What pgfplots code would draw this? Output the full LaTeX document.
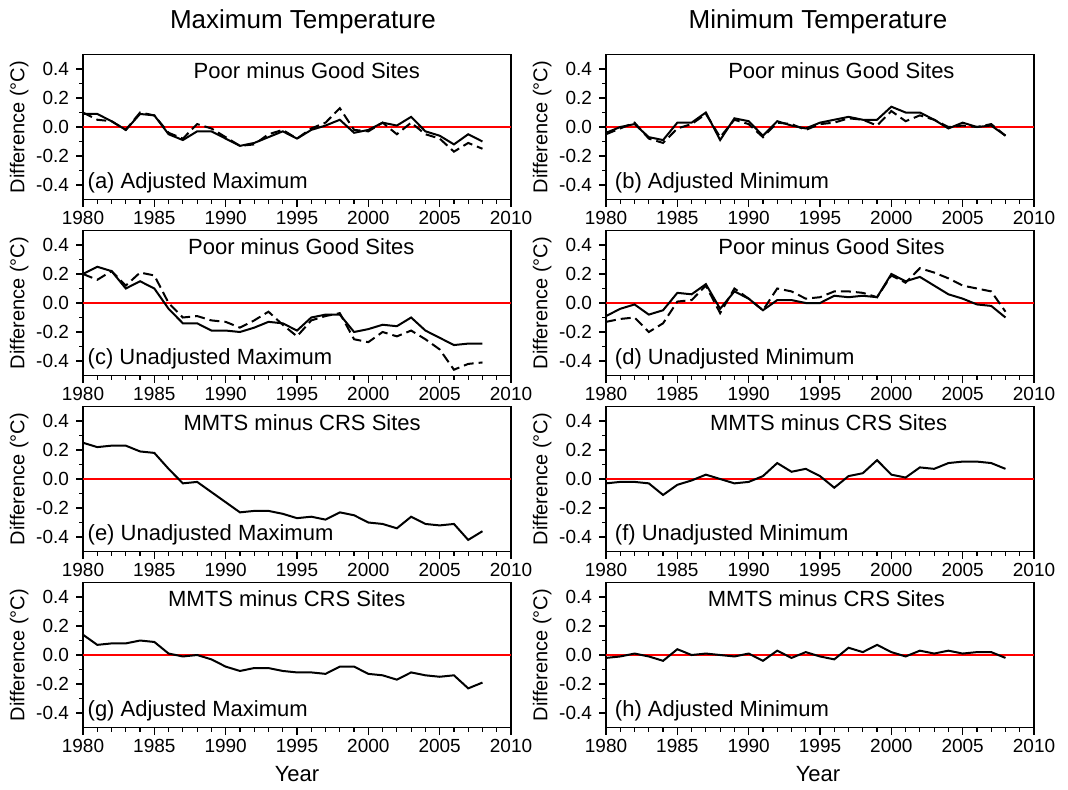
\documentclass[border=0pt]{standalone}
\usepackage{pgfplots}
\pgfplotsset{compat=1.18}
\usepackage{fontspec}
\setmainfont{Liberation Sans}
\pgfplotsset{
  panel/.style={
    scale only axis, width=214pt, height=72.5pt,
    anchor=south west,
    xmin=1980, xmax=2010, ymin=-0.5, ymax=0.5,
    xtick={1980,1985,...,2010}, minor x tick num=4,
    ytick={-0.4,-0.2,0,0.2,0.4}, minor y tick num=1,
    xtick pos=bottom, ytick pos=left,
    tick align=outside,
    major tick length=3.5pt, minor tick length=2pt,
    every tick/.style={black, line width=0.6pt},
    axis line style={line width=0.8pt},
    /pgf/number format/assume math mode=true,
    x tick label style={/pgf/number format/1000 sep={}, font=\fontsize{9.5}{11}\selectfont, yshift=1pt},
    y tick label style={/pgf/number format/fixed, /pgf/number format/fixed zerofill, /pgf/number format/precision=1, font=\fontsize{9.5}{11}\selectfont},
    ylabel={Difference (°C)},
    ylabel style={font=\fontsize{10}{12}\selectfont, yshift=-3pt},
    clip=false,
  },
  sol/.style={black, line width=1pt},
  das/.style={black, line width=1pt, dash pattern=on 5pt off 2.5pt},
  zero/.style={red, line width=1pt},
}
\newcommand{\inner}[2]{\node[font=\fontsize{11}{13}\selectfont] at (rel axis cs:#1,0.886) {#2};}
\newcommand{\lab}[2]{\node[font=\fontsize{11}{13}\selectfont, anchor=west, inner sep=0pt] at (rel axis cs:#1,0.114) {#2};}
\begin{document}
\begin{tikzpicture}
% (a)
\begin{axis}[panel, at={(41.5pt,294.75pt)}]
\addplot[zero] coordinates {(1980,0) (2010,0)};
\addplot[das] coordinates {(1980,0.10)(1981,0.05)(1982,0.04)(1983,-0.02)(1984,0.10)(1985,0.08)(1986,-0.04)(1987,-0.08)(1988,0.02)(1989,-0.01)(1990,-0.07)(1991,-0.13)(1992,-0.12)(1993,-0.05)(1994,-0.02)(1995,-0.08)(1996,-0.01)(1997,0.03)(1998,0.13)(1999,-0.02)(2000,-0.03)(2001,0.03)(2002,-0.05)(2003,0.03)(2004,-0.05)(2005,-0.08)(2006,-0.17)(2007,-0.11)(2008,-0.15)};
\addplot[sol] coordinates {(1980,0.09)(1981,0.09)(1982,0.04)(1983,-0.02)(1984,0.09)(1985,0.08)(1986,-0.05)(1987,-0.09)(1988,-0.03)(1989,-0.03)(1990,-0.08)(1991,-0.13)(1992,-0.11)(1993,-0.07)(1994,-0.03)(1995,-0.08)(1996,-0.02)(1997,0.01)(1998,0.05)(1999,-0.04)(2000,-0.02)(2001,0.03)(2002,0.01)(2003,0.07)(2004,-0.03)(2005,-0.06)(2006,-0.12)(2007,-0.05)(2008,-0.10)};
\inner{0.523}{Poor minus Good Sites}
\lab{0.01}{(a) Adjusted Maximum}
\end{axis}
% (b)
\begin{axis}[panel, at={(303pt,294.75pt)}]
\addplot[zero] coordinates {(1980,0) (2010,0)};
\addplot[das] coordinates {(1980,-0.05)(1981,-0.01)(1982,0.03)(1983,-0.08)(1984,-0.11)(1985,-0.01)(1986,0.02)(1987,0.09)(1988,-0.07)(1989,0.05)(1990,0.02)(1991,-0.07)(1992,0.03)(1993,0.02)(1994,-0.02)(1995,0.02)(1996,0.03)(1997,0.06)(1998,0.05)(1999,0.01)(2000,0.11)(2001,0.04)(2002,0.08)(2003,0.05)(2004,0.00)(2005,0.01)(2006,0.00)(2007,0.02)(2008,-0.06)};
\addplot[sol] coordinates {(1980,-0.04)(1981,0.00)(1982,0.02)(1983,-0.07)(1984,-0.09)(1985,0.03)(1986,0.03)(1987,0.10)(1988,-0.09)(1989,0.06)(1990,0.04)(1991,-0.06)(1992,0.04)(1993,0.01)(1994,-0.01)(1995,0.03)(1996,0.05)(1997,0.07)(1998,0.05)(1999,0.05)(2000,0.14)(2001,0.10)(2002,0.10)(2003,0.05)(2004,-0.01)(2005,0.03)(2006,0.00)(2007,0.01)(2008,-0.06)};
\inner{0.55}{Poor minus Good Sites}
\lab{0.02}{(b) Adjusted Minimum}
\end{axis}
% (c)
\begin{axis}[panel, at={(41.5pt,206.75pt)}]
\addplot[zero] coordinates {(1980,0) (2010,0)};
\addplot[das] coordinates {(1980,0.20)(1981,0.16)(1982,0.22)(1983,0.12)(1984,0.21)(1985,0.19)(1986,0.00)(1987,-0.10)(1988,-0.09)(1989,-0.12)(1990,-0.13)(1991,-0.17)(1992,-0.12)(1993,-0.06)(1994,-0.15)(1995,-0.23)(1996,-0.12)(1997,-0.09)(1998,-0.07)(1999,-0.25)(2000,-0.27)(2001,-0.20)(2002,-0.23)(2003,-0.19)(2004,-0.25)(2005,-0.32)(2006,-0.46)(2007,-0.42)(2008,-0.41)};
\addplot[sol] coordinates {(1980,0.20)(1981,0.25)(1982,0.22)(1983,0.10)(1984,0.15)(1985,0.10)(1986,-0.04)(1987,-0.14)(1988,-0.14)(1989,-0.19)(1990,-0.19)(1991,-0.20)(1992,-0.17)(1993,-0.13)(1994,-0.14)(1995,-0.19)(1996,-0.10)(1997,-0.08)(1998,-0.08)(1999,-0.20)(2000,-0.18)(2001,-0.15)(2002,-0.16)(2003,-0.10)(2004,-0.19)(2005,-0.24)(2006,-0.29)(2007,-0.28)(2008,-0.28)};
\inner{0.51}{Poor minus Good Sites}
\lab{0.01}{(c) Unadjusted Maximum}
\end{axis}
% (d)
\begin{axis}[panel, at={(303pt,206.75pt)}]
\addplot[zero] coordinates {(1980,0) (2010,0)};
\addplot[das] coordinates {(1980,-0.13)(1981,-0.11)(1982,-0.10)(1983,-0.20)(1984,-0.14)(1985,0.01)(1986,0.02)(1987,0.12)(1988,-0.07)(1989,0.10)(1990,0.03)(1991,-0.05)(1992,0.10)(1993,0.08)(1994,0.03)(1995,0.04)(1996,0.08)(1997,0.08)(1998,0.07)(1999,0.04)(2000,0.19)(2001,0.14)(2002,0.24)(2003,0.21)(2004,0.17)(2005,0.12)(2006,0.10)(2007,0.08)(2008,-0.06)};
\addplot[sol] coordinates {(1980,-0.09)(1981,-0.04)(1982,-0.01)(1983,-0.08)(1984,-0.05)(1985,0.07)(1986,0.06)(1987,0.13)(1988,-0.04)(1989,0.08)(1990,0.03)(1991,-0.05)(1992,0.02)(1993,0.02)(1994,0.00)(1995,0.00)(1996,0.05)(1997,0.04)(1998,0.05)(1999,0.04)(2000,0.20)(2001,0.15)(2002,0.18)(2003,0.12)(2004,0.06)(2005,0.03)(2006,-0.01)(2007,-0.02)(2008,-0.10)};
\inner{0.527}{Poor minus Good Sites}
\lab{0.02}{(d) Unadjusted Minimum}
\end{axis}
% (e)
\begin{axis}[panel, at={(41.5pt,118.75pt)}]
\addplot[zero] coordinates {(1980,0) (2010,0)};
\addplot[sol] coordinates {(1980,0.25)(1981,0.22)(1982,0.23)(1983,0.23)(1984,0.19)(1985,0.18)(1986,0.07)(1987,-0.03)(1988,-0.02)(1989,-0.09)(1990,-0.16)(1991,-0.23)(1992,-0.22)(1993,-0.22)(1994,-0.24)(1995,-0.27)(1996,-0.26)(1997,-0.28)(1998,-0.23)(1999,-0.25)(2000,-0.30)(2001,-0.31)(2002,-0.34)(2003,-0.26)(2004,-0.31)(2005,-0.32)(2006,-0.31)(2007,-0.42)(2008,-0.36)};
\inner{0.512}{MMTS minus CRS Sites}
\lab{0.01}{(e) Unadjusted Maximum}
\end{axis}
% (f)
\begin{axis}[panel, at={(303pt,118.75pt)}]
\addplot[zero] coordinates {(1980,0) (2010,0)};
\addplot[sol] coordinates {(1980,-0.03)(1981,-0.02)(1982,-0.02)(1983,-0.03)(1984,-0.11)(1985,-0.04)(1986,-0.01)(1987,0.03)(1988,0.00)(1989,-0.03)(1990,-0.02)(1991,0.02)(1992,0.11)(1993,0.05)(1994,0.07)(1995,0.02)(1996,-0.06)(1997,0.02)(1998,0.04)(1999,0.13)(2000,0.03)(2001,0.01)(2002,0.08)(2003,0.07)(2004,0.11)(2005,0.12)(2006,0.12)(2007,0.11)(2008,0.07)};
\inner{0.52}{MMTS minus CRS Sites}
\lab{0.02}{(f) Unadjusted Minimum}
\end{axis}
% (g)
\begin{axis}[panel, at={(41.5pt,30.75pt)}]
\addplot[zero] coordinates {(1980,0) (2010,0)};
\addplot[sol] coordinates {(1980,0.14)(1981,0.07)(1982,0.08)(1983,0.08)(1984,0.10)(1985,0.09)(1986,0.01)(1987,-0.01)(1988,0.00)(1989,-0.03)(1990,-0.08)(1991,-0.11)(1992,-0.09)(1993,-0.09)(1994,-0.11)(1995,-0.12)(1996,-0.12)(1997,-0.13)(1998,-0.08)(1999,-0.08)(2000,-0.13)(2001,-0.14)(2002,-0.17)(2003,-0.12)(2004,-0.14)(2005,-0.15)(2006,-0.14)(2007,-0.23)(2008,-0.19)};
\inner{0.476}{MMTS minus CRS Sites}
\lab{0.01}{(g) Adjusted Maximum}
\end{axis}
% (h)
\begin{axis}[panel, at={(303pt,30.75pt)}]
\addplot[zero] coordinates {(1980,0) (2010,0)};
\addplot[sol] coordinates {(1980,-0.02)(1981,-0.01)(1982,0.01)(1983,-0.01)(1984,-0.04)(1985,0.04)(1986,0.00)(1987,0.01)(1988,0.00)(1989,-0.01)(1990,0.01)(1991,-0.04)(1992,0.03)(1993,-0.02)(1994,0.02)(1995,-0.01)(1996,-0.03)(1997,0.05)(1998,0.02)(1999,0.07)(2000,0.02)(2001,-0.01)(2002,0.03)(2003,0.01)(2004,0.03)(2005,0.01)(2006,0.02)(2007,0.02)(2008,-0.02)};
\inner{0.515}{MMTS minus CRS Sites}
\lab{0.02}{(h) Adjusted Minimum}
\end{axis}
\node[font=\fontsize{13}{15}\selectfont] at (151.5pt,383.5pt) {Maximum Temperature};
\node[font=\fontsize{13}{15}\selectfont] at (409pt,383.5pt) {Minimum Temperature};
\node[font=\fontsize{11}{13}\selectfont] at (148.5pt,7.5pt) {Year};
\node[font=\fontsize{11}{13}\selectfont] at (409pt,7.5pt) {Year};
\pgfresetboundingbox
\path[use as bounding box] (0,0) rectangle (534pt,394.5pt);
\end{tikzpicture}
\end{document}
